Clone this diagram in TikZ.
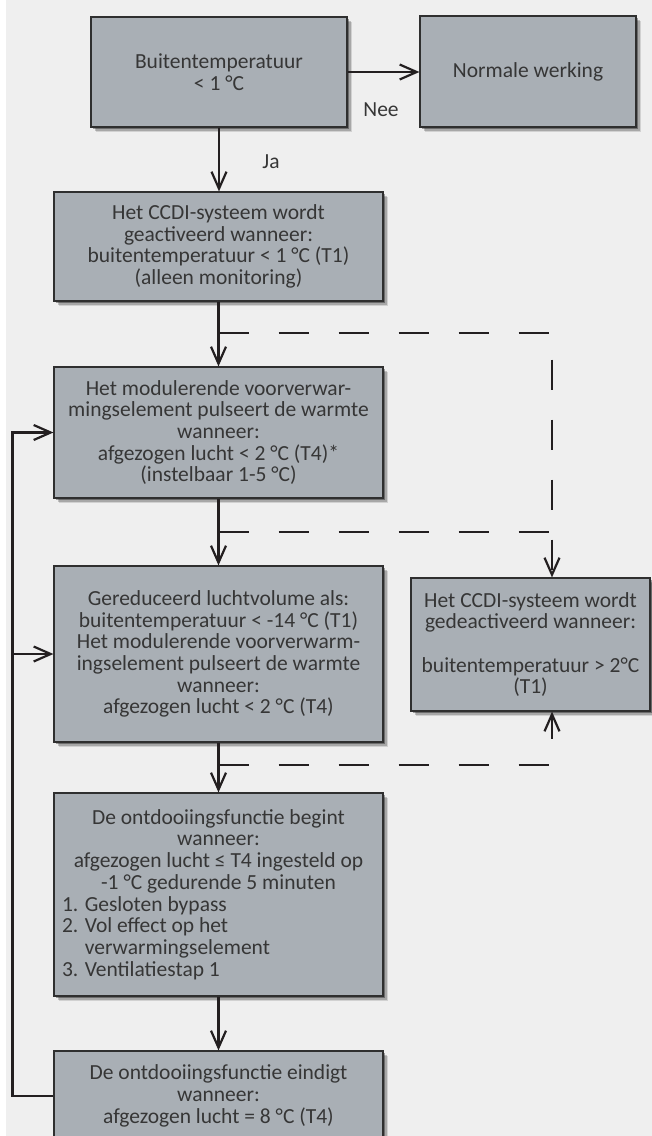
\documentclass[tikz,border=0pt]{standalone}
\usepackage{fontspec}
\setmainfont{Carlito}
\usetikzlibrary{arrows.meta,shadows}
\definecolor{bg}{HTML}{EFEFEF}
\definecolor{boxfill}{HTML}{A9AFB5}
\definecolor{edge}{HTML}{2F2F2F}
\definecolor{txt}{HTML}{363636}
\definecolor{ink}{HTML}{231F20}
\begin{document}
\begin{tikzpicture}[x=1pt, y=-1pt,
    every node/.style={font=\fontsize{21.5}{21.7}\selectfont, text=txt},
    box/.style={draw=edge, line width=1.2pt, fill=boxfill, align=center, inner sep=0pt,
      drop shadow={shadow xshift=5pt, shadow yshift=-5pt, fill=black, opacity=.12},
      drop shadow={shadow xshift=3.5pt, shadow yshift=-3.5pt, fill=black, opacity=.2},
      drop shadow={shadow xshift=2pt, shadow yshift=-2pt, fill=black, opacity=.35}},
    tip/.style={-{Straight Barb[length=17pt, width=15pt]}},
    flow/.style={draw=ink, line width=2.2pt},
    dashline/.style={draw=ink, line width=2.2pt, dash pattern=on 30pt off 30pt}]
    \useasboundingbox (0,0) rectangle (652,1136);
    \fill[bg] (6,0) rectangle (652,1136);

    % boxes
    \node[box, minimum width=256pt, minimum height=110pt] (b1) at (219,72)
      {Buitentemperatuur\\< 1 °C};
    \node[box, minimum width=216pt, minimum height=111pt] (nor) at (528,71.5)
      {Normale werking};
    \node[box, minimum width=329pt, minimum height=109pt] (act) at (218.5,246.5)
      {Het CCDI-systeem wordt\\geactiveerd wanneer:\\buitentemperatuur < 1 °C (T1)\\(alleen monitoring)};
    \node[box, minimum width=329pt, minimum height=131pt] (pre) at (218.5,432.5)
      {Het modulerende voorverwar-\\mingselement pulseert de warmte\\wanneer:\\afgezogen lucht < 2 °C (T4)*\\(instelbaar 1-5 °C)};
    \node[box, minimum width=329pt, minimum height=176pt] (red) at (218.5,654)
      {Gereduceerd luchtvolume als:\\buitentemperatuur < -14 °C (T1)\\Het modulerende voorverwarm-\\ingselement pulseert de warmte\\wanneer:\\afgezogen lucht < 2 °C (T4)};
    \node[box, minimum width=239pt, minimum height=133pt] (deact) at (530.5,644.5)
      {Het CCDI-systeem wordt\\gedeactiveerd wanneer:\\\mbox{}\\buitentemperatuur > 2°C\\(T1)};
    \node[box, minimum width=329pt, minimum height=203pt] (dstart) at (218.5,894.5)
      {De ontdooiingsfunctie begint\\wanneer:\\afgezogen lucht ≤ T4 ingesteld op\\-1 °C gedurende 5 minuten\\
       \makebox[313pt][l]{1. Gesloten bypass}\\
       \makebox[313pt][l]{2. Vol effect op het}\\
       \makebox[313pt][l]{\phantom{2. }verwarmingselement}\\
       \makebox[313pt][l]{3. Ventilatiestap 1}};
    \node[box, minimum width=329pt, minimum height=90pt] (dend) at (218.5,1096)
      {De ontdooiingsfunctie eindigt\\wanneer:\\afgezogen lucht = 8 °C (T4)};

    % labels
    \node (ja) at (271,162) {Ja};
    \node (nee) at (381,110) {Nee};

    % helper points
    \coordinate (dx) at (552,0);
    \coordinate (lp) at (12.5,0);
    \coordinate (j1) at (218.5,333);
    \coordinate (j2) at (218.5,532);
    \coordinate (j3) at (218.5,765);

    % main flow
    \draw[flow, tip] (b1.east) -- (b1.east -| nor.west);
    \draw[flow, tip] (b1.south) -- (b1.south |- act.north);
    \draw[flow, tip] (act) -- (pre);
    \draw[flow, tip] (pre) -- (red);
    \draw[flow, tip] (red) -- (dstart);
    \draw[flow, tip] (dstart) -- (dend);

    % loop back
    \draw[flow, tip] (dend.west) -| (lp |- pre.west) -- (pre.west);
    \draw[flow, tip] (lp |- red.west) -- (red.west);

    % dashed branches
    \draw[dashline, tip] (j1) -| (dx |- deact.north);
    \draw[dashline] (j2) -- (dx |- j2);
    \draw[dashline, tip] (j3) -| (dx |- deact.south);
\end{tikzpicture}
\end{document}
